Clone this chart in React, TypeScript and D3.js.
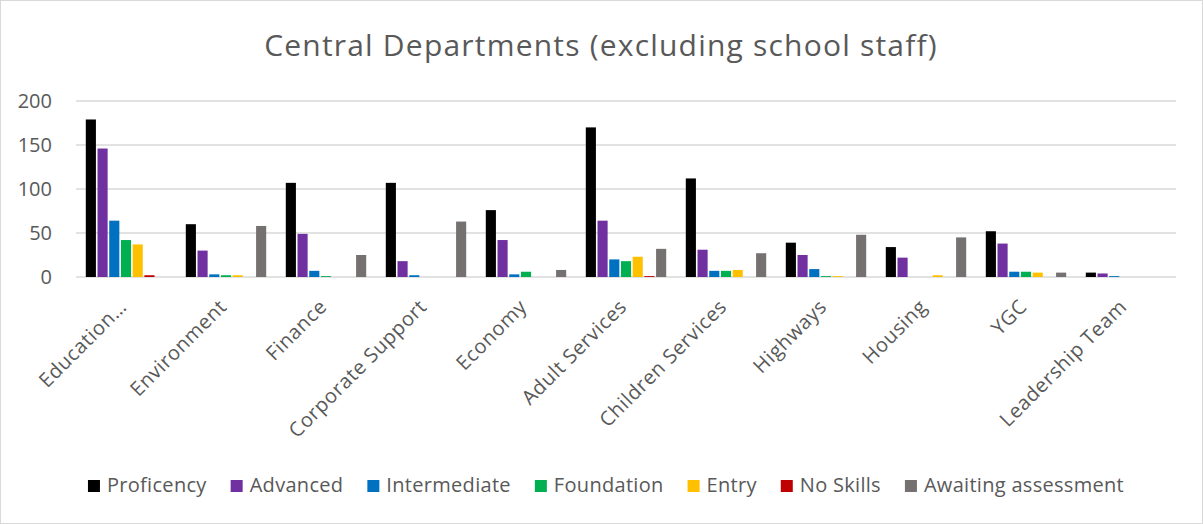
import React, { useRef, useEffect } from 'react';
import * as d3 from 'd3';

const departments = [
  'Education…', 'Environment', 'Finance', 'Corporate Support', 'Economy',
  'Adult Services', 'Children Services', 'Highways', 'Housing', 'YGC', 'Leadership Team',
];

const levels = ['Proficency', 'Advanced', 'Intermediate', 'Foundation', 'Entry', 'No Skills', 'Awaiting assessment'];
const levelColors = ['#000000', '#7030a0', '#0070c0', '#00b050', '#ffc000', '#c00000', '#767171'];

// one array per level, in department order
const proficency = [179, 60, 107, 107, 76, 170, 112, 39, 34, 52, 5];
const advanced = [146, 30, 49, 18, 42, 64, 31, 25, 22, 38, 4];
const intermediate = [64, 3, 7, 2, 3, 20, 7, 9, 0, 6, 1];
const foundation = [42, 2, 1, 0, 6, 18, 7, 1, 0, 6, 0];
const entry = [37, 2, 0, 0, 0, 23, 8, 1, 2, 5, 0];
const noSkills = [2, 0, 0, 0, 0, 1, 0, 0, 0, 0, 0];
const awaiting = [0, 58, 25, 63, 8, 32, 27, 48, 45, 5, 0];

const yTicks = [0, 50, 100, 150, 200];

const W = 1203;
const H = 524;
const FONT = '"Open Sans", sans-serif';
const TEXT = '#595959';

const App = () => {
  const ref = useRef<SVGSVGElement>(null);

  useEffect(() => {
    const svg = d3.select(ref.current);
    svg.selectAll('*').remove();

    const series = [proficency, advanced, intermediate, foundation, entry, noSkills, awaiting];

    svg.append('rect')
      .attr('x', 0.5).attr('y', 0.5).attr('width', W - 1).attr('height', H - 1)
      .attr('fill', '#fff').attr('stroke', '#d9d9d9');

    svg.append('text')
      .attr('x', 601).attr('y', 56)
      .attr('text-anchor', 'middle')
      .attr('font-family', FONT).attr('font-size', 30).attr('letter-spacing', 1.2).attr('fill', TEXT)
      .text('Central Departments (excluding school staff)');

    const x0 = d3.scaleBand().domain(departments).range([76, 1176]).paddingInner(0.18).paddingOuter(0.09);
    const x1 = d3.scaleBand().domain(levels).range([0, x0.bandwidth()]);
    const y = d3.scaleLinear().domain([0, 200]).range([277, 101]);

    const grid = svg.append('g');
    grid.selectAll('line').data(yTicks).join('line')
      .attr('x1', 76).attr('x2', 1176)
      .attr('y1', d => y(d)).attr('y2', d => y(d))
      .attr('stroke', '#d9d9d9').attr('stroke-width', 1.5);

    svg.append('g').selectAll('text').data(yTicks).join('text')
      .attr('x', 52).attr('y', d => y(d) + 7)
      .attr('text-anchor', 'end')
      .attr('font-family', FONT).attr('font-size', 20).attr('fill', TEXT)
      .text(d => d);

    const groups = svg.append('g').selectAll('g').data(departments).join('g')
      .attr('transform', d => `translate(${x0(d)},0)`);

    groups.selectAll('rect')
      .data((d, i) => levels.map((l, k) => ({ level: l, value: series[k][i], color: levelColors[k] })))
      .join('rect')
      .attr('x', d => x1(d.level)! + 0.8)
      .attr('width', x1.bandwidth() - 1.6)
      .attr('y', d => y(d.value))
      .attr('height', d => y(0) - y(d.value))
      .attr('fill', d => d.color);

    svg.append('g').selectAll('text').data(departments).join('text')
      .attr('transform', d => `translate(${x0(d)! + x0.bandwidth() / 2 + 2},${308}) rotate(-45)`)
      .attr('text-anchor', 'end')
      .attr('font-family', FONT).attr('font-size', 20).attr('letter-spacing', 0.6).attr('fill', TEXT)
      .text(d => d);

    // legend, measured then centred
    const legend = svg.append('g');
    const items = legend.selectAll('g').data(levels).join('g');
    items.append('rect')
      .attr('width', 12).attr('height', 12).attr('y', -12)
      .attr('fill', (d, i) => levelColors[i]);
    items.append('text')
      .attr('x', 19).attr('y', 0)
      .attr('font-family', FONT).attr('font-size', 20).attr('letter-spacing', 0.3).attr('fill', TEXT)
      .text(d => d);
    let pos = 0;
    const offsets: number[] = [];
    items.each(function () {
      offsets.push(pos);
      const t = (this as SVGGElement).querySelector('text') as SVGTextElement;
      pos += 19 + t.getComputedTextLength() + 24;
    });
    const total = pos - 24;
    const start = 606 - total / 2;
    items.attr('transform', (d, i) => `translate(${start + offsets[i]},492)`);
  }, []);

  return (
    <svg ref={ref} width={W} height={H} style={{ position: 'absolute', left: 0, top: 0 }} />
  );
};

export default App;
